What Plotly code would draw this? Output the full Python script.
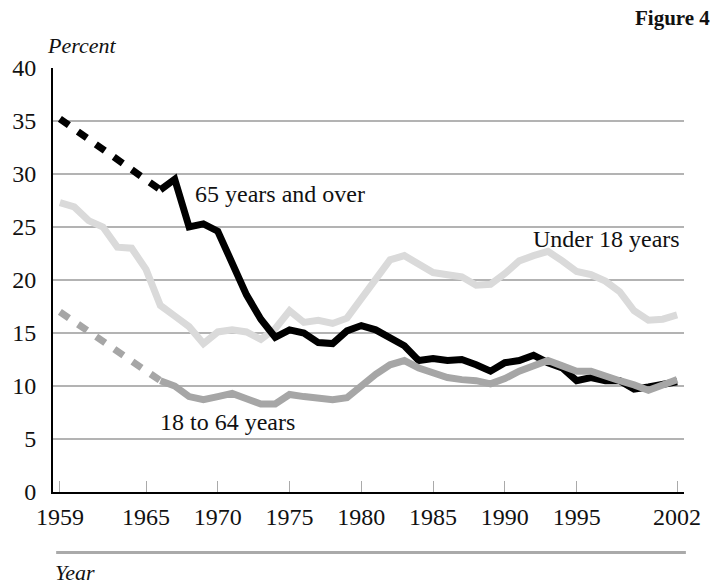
import plotly.graph_objects as go

years = list(range(1966, 2003))
gap_years = [1959, 1966]

over65_1959 = 35.2
over65 = [28.5, 29.5, 25.0, 25.3, 24.6, 21.6, 18.6, 16.3, 14.6, 15.3,
          15.0, 14.1, 14.0, 15.2, 15.7, 15.3, 14.6, 13.8, 12.4, 12.6,
          12.4, 12.5, 12.0, 11.4, 12.2, 12.4, 12.9, 12.2, 11.7, 10.5,
          10.8, 10.5, 10.5, 9.7, 9.9, 10.1, 10.4]

under18_years = list(range(1959, 2003))
under18 = [27.3, 26.9, 25.6, 25.0, 23.1, 23.0, 21.0, 17.6, 16.6, 15.6,
           14.0, 15.1, 15.3, 15.1, 14.4, 15.4, 17.1, 16.0, 16.2, 15.9,
           16.4, 18.3, 20.0, 21.9, 22.3, 21.5, 20.7, 20.5, 20.3, 19.5,
           19.6, 20.6, 21.8, 22.3, 22.7, 21.8, 20.8, 20.5, 19.9, 18.9,
           17.1, 16.2, 16.3, 16.7]

age18_64_1959 = 17.0
age18_64 = [10.5, 10.0, 9.0, 8.7, 9.0, 9.3, 8.8, 8.3, 8.3, 9.2,
            9.0, 8.8, 8.7, 8.9, 10.1, 11.1, 12.0, 12.4, 11.7, 11.3,
            10.8, 10.6, 10.5, 10.2, 10.7, 11.4, 11.9, 12.4, 11.9, 11.4,
            11.4, 10.9, 10.5, 10.1, 9.6, 10.1, 10.6]

tick_years = [1959, 1965, 1970, 1975, 1980, 1985, 1990, 1995, 2002]
y_ticks = [0, 5, 10, 15, 20, 25, 30, 35, 40]

BLACK = "#000000"
LIGHT = "#dadada"
MID = "#a6a6a6"
FONT = "Liberation Serif"
FS = 24
LW = 7
DASH = "11px,11px"

fig = go.Figure()

# Under 18 (bottom layer)
fig.add_trace(go.Scatter(x=under18_years, y=under18, mode="lines",
                         line=dict(color=LIGHT, width=LW), hoverinfo="skip"))
# 65 and over
fig.add_trace(go.Scatter(x=gap_years, y=[over65_1959, over65[0]], mode="lines",
                         line=dict(color=BLACK, width=LW, dash=DASH), hoverinfo="skip"))
fig.add_trace(go.Scatter(x=years, y=over65, mode="lines",
                         line=dict(color=BLACK, width=LW), hoverinfo="skip"))
# 18 to 64 (top)
fig.add_trace(go.Scatter(x=gap_years, y=[age18_64_1959, age18_64[0]], mode="lines",
                         line=dict(color=MID, width=LW, dash=DASH), hoverinfo="skip"))
fig.add_trace(go.Scatter(x=years, y=age18_64, mode="lines",
                         line=dict(color=MID, width=LW), hoverinfo="skip"))

fig.update_layout(
    width=713, height=586,
    margin=dict(l=49, r=29, t=68, b=94),
    paper_bgcolor="white", plot_bgcolor="white",
    showlegend=False,
    font=dict(family=FONT, size=FS, color="#111111"),
    xaxis=dict(range=[1958.52, 2002.48], tickvals=tick_years,
               ticktext=[str(t) for t in tick_years],
               showgrid=False, zeroline=False,
               showline=True, linecolor="#000000", linewidth=2,
               ticks="inside", ticklen=11, tickcolor="#aaaaaa", tickwidth=1,
               ticklabelstandoff=2,
               tickfont=dict(family=FONT, size=FS, color="#111111")),
    yaxis=dict(range=[0, 40], tickvals=y_ticks,
               showgrid=True, gridcolor="#b3b3b3", gridwidth=1.5,
               zeroline=False,
               showline=True, linecolor="#000000", linewidth=2,
               ticks="", ticklabelstandoff=10,
               tickfont=dict(family=FONT, size=FS, color="#111111")),
)

fig.add_shape(type="line", xref="paper", yref="paper",
              x0=0.005, x1=1.003, y0=-0.1425, y1=-0.1425,
              line=dict(color="#aaaaaa", width=3))

annos = [
    dict(text="<i>Percent</i>", x=41, y=45, xanchor="left", size=22),
    dict(text="<i>Year</i>", x=49, y=573, xanchor="left", size=22),
    dict(text="<b>Figure 4</b>", x=712, y=18, xanchor="right", size=21),
]
for a in annos:
    fig.add_annotation(text=a["text"], xref="paper", yref="paper",
                       x=(a["x"] - 49) / 635, y=(492.5 - a["y"]) / 424.5,
                       xanchor=a["xanchor"], yanchor="middle", showarrow=False,
                       font=dict(family=FONT, size=a["size"], color="#111111"))

labels = [
    ("65 years and over", 1968.3, 28.1, "left"),
    ("Under 18 years", 2002.35, 23.9, "right"),
    ("18 to 64 years", 1965.8, 6.65, "left"),
]
for text, xv, yv, anchor in labels:
    fig.add_annotation(text=text, x=xv, y=yv, xanchor=anchor, yanchor="middle",
                       showarrow=False, font=dict(family=FONT, size=FS, color="#111111"))

fig.write_html("out.html", config={"displayModeBar": False},
               post_script="document.body.style.margin='0';document.body.style.overflow='hidden';")
